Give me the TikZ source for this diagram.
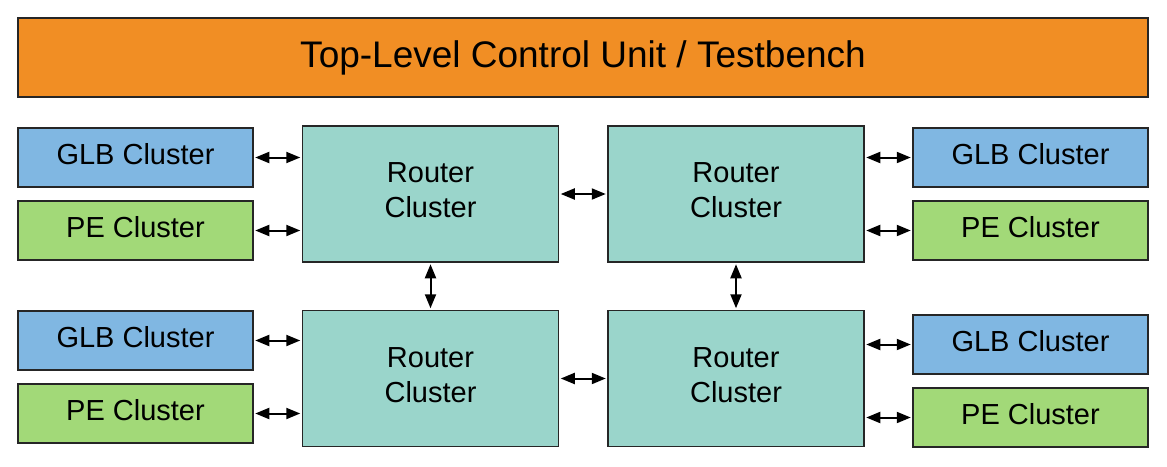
\documentclass[tikz,border=0pt]{standalone}
\usepackage{fontspec}
\setmainfont{Liberation Sans}
\usetikzlibrary{arrows.meta}
\definecolor{topor}{RGB}{241,142,36}
\definecolor{glbblue}{RGB}{128,183,226}
\definecolor{pegreen}{RGB}{162,217,120}
\definecolor{rtteal}{RGB}{154,213,203}
\tikzset{
  blk/.style={draw=black!85, line width=1.5pt, inner sep=0pt, font=\fontsize{29}{35}\selectfont},
  glb/.style={blk, fill=glbblue, minimum width=235pt, minimum height=59pt, text depth=7pt},
  pe/.style={blk, fill=pegreen, minimum width=235pt, minimum height=59pt, text depth=7pt},
  rt/.style={blk, fill=rtteal, minimum width=256pt, minimum height=136pt, align=center, text depth=7pt},
  link/.style={{Triangle[length=14pt,width=11pt]}-{Triangle[length=14pt,width=11pt]}, line width=2pt, shorten <=1.5pt, shorten >=1.5pt}
}
\begin{document}
\begin{tikzpicture}[x=1pt,y=-1pt]
\useasboundingbox (0,0) rectangle (1167,466);

\node [blk, fill=topor, minimum width=1130pt, minimum height=79pt, font=\fontsize{37}{44}\selectfont] (top) at (583,57.5) {Top-Level Control Unit / Testbench};

\node [rt] (rtA) at (430.5,194) {Router\\Cluster};
\node [rt] (rtB) at (736,194) {Router\\Cluster};
\node [rt] (rtC) at (430.5,378.5) {Router\\Cluster};
\node [rt] (rtD) at (736,378.5) {Router\\Cluster};

\node [glb] (glbA) at (135.5,157.5) {GLB Cluster};
\node [pe] (peA) at (135.5,230.5) {PE Cluster};
\node [glb] (glbB) at (1030.5,157.5) {GLB Cluster};
\node [pe] (peB) at (1030.5,230.5) {PE Cluster};
\node [glb] (glbC) at (135.5,340.5) {GLB Cluster};
\node [pe] (peC) at (135.5,413.5) {PE Cluster};
\node [glb] (glbD) at (1030.5,344.5) {GLB Cluster};
\node [pe] (peD) at (1030.5,417.5) {PE Cluster};

\draw [link] (glbA.east) -- (glbA.east -| rtA.west);
\draw [link] (peA.east) -- (peA.east -| rtA.west);
\draw [link] (glbC.east) -- (glbC.east -| rtC.west);
\draw [link] (peC.east) -- (peC.east -| rtC.west);
\draw [link] (glbB.west) -- (glbB.west -| rtB.east);
\draw [link] (peB.west) -- (peB.west -| rtB.east);
\draw [link] (glbD.west) -- (glbD.west -| rtD.east);
\draw [link] (peD.west) -- (peD.west -| rtD.east);

\draw [link] (rtA.east) -- (rtB.west);
\draw [link] (rtC.east) -- (rtD.west);
\draw [link] (rtA.south) -- (rtC.north);
\draw [link] (rtB.south) -- (rtD.north);
\end{tikzpicture}
\end{document}
